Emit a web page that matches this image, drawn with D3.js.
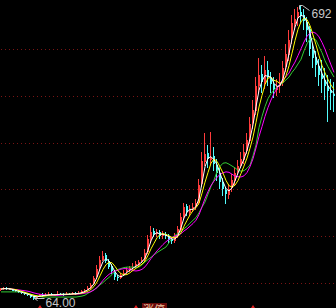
<!DOCTYPE html>
<html><head><meta charset="utf-8">
<script src="https://cdn.jsdelivr.net/npm/d3@7"></script>
<style>html,body{margin:0;padding:0;background:#000;overflow:hidden}</style>
</head><body>
<svg id="c" width="336" height="308"></svg>
<script>
const openP = [
85,87,90,88,86,84,82,80,78,76,
74,72,69,72,75,73,75,77,74,75,
77,77,75,77,76,78,77,79,82,86,
90,97,112,132,150,160,148,136,124,113,
111,117,123,127,133,136,139,146,151,166,
193,212,204,209,201,204,201,193,189,201,
214,242,264,250,259,263,272,312,358,377,
363,372,353,334,316,298,289,302,318,337,
351,363,382,404,442,468,522,547,528,556,
538,526,513,522,528,562,588,623,653,667,
678,672,657,642,598,582,563,547,533,522,
512,503];
const closeP = [
87,89,88,86,84,82,80,78,76,74,
71,69,72,74,73,75,76,74,75,77,
76,75,77,76,78,77,79,82,85,90,
96,110,130,150,158,148,135,125,112,110,
118,122,128,132,135,140,145,150,165,195,
210,205,208,200,205,200,192,190,200,215,
240,262,252,258,262,270,310,360,375,365,
370,355,335,315,300,290,300,320,335,350,
365,380,405,440,470,520,545,530,555,540,
525,515,520,530,560,590,620,655,665,680,
670,660,640,600,580,565,545,535,520,510,
505,500];
const highP = [
90,92,92,90,88,86,84,82,80,78,
76,73,74,77,78,79,80,78,77,82,
79,78,80,79,81,80,82,85,88,94,
100,116,138,158,168,164,152,140,127,118,
122,127,134,137,142,146,150,156,172,203,
222,218,216,214,212,210,205,198,206,222,
250,272,268,266,270,280,322,380,420,395,
422,390,365,345,325,305,312,332,348,362,
380,398,420,455,490,540,580,565,585,575,
550,540,535,548,575,610,640,672,685,690,
692,685,668,650,610,595,578,576,560,545,
535,530];
const lowP = [
83,85,86,84,82,80,78,76,74,72,
69,64,67,70,71,72,73,72,72,73,
74,73,74,74,75,75,76,78,80,84,
88,95,108,128,146,142,130,120,106,104,
108,114,120,124,128,132,136,142,147,162,
188,198,198,194,195,193,185,183,186,197,
210,236,244,244,252,255,266,305,350,345,
355,340,318,300,285,268,280,295,310,330,
345,355,375,398,430,460,505,505,515,520,
505,495,500,505,520,550,575,610,640,650,
655,640,615,585,560,540,520,505,490,445,
470,465];
const maLong = [
81,81,81,81,81,81,81,80,78,76,
75,74,72,71,70,70,70,70,70,70,
70,70,70,70,70,70,71,72,74,78,
82,86,90,96,101,107,112,118,125,129,
131,133,134,134,134,134,134,139,145,150,
155,160,165,169,173,177,186,197,202,206,
210,216,221,228,234,240,250,262,273,290,
306,320,338,349,356,357,354,350,346,341,
339,340,345,352,372,395,432,456,477,494,
505,512,518,523,528,534,540,550,558,568,
578,596,611,622,622,619,605,592,575,562,
551,540];
const gridValues = [100,200,300,400,500,600];
const signalIdx = [13, 45, 84];
const tagIdx = 47;
const tagText = "涨停";
const highLabel = "692";
const lowLabel = "64.00";

const W = 336, H = 308;
const svg = d3.select("#c");
svg.append("rect").attr("width",W).attr("height",H).attr("fill","#000");

const n = closeP.length;
const x = d3.scaleBand().domain(d3.range(n)).range([0, W]);
const y = d3.scaleLinear().domain([100, 600]).range([283, 49]);

// grid
svg.append("g").selectAll("line").data(gridValues).join("line")
  .attr("x1", 1).attr("x2", W)
  .attr("y1", d => Math.round(y(d)) + 0.5).attr("y2", d => Math.round(y(d)) + 0.5)
  .attr("stroke", "#7a1414").attr("stroke-width", 1)
  .attr("stroke-dasharray", "1,3");

// candles
const up = i => closeP[i] >= openP[i];
const cg = svg.append("g").attr("shape-rendering", "crispEdges");
const idx = d3.range(n);
cg.selectAll("rect.w").data(idx).join("rect").attr("class","w")
  .attr("x", i => x(i))
  .attr("width", 1)
  .attr("y", i => y(highP[i]))
  .attr("height", i => Math.max(1, y(lowP[i]) - y(highP[i])))
  .attr("fill", i => up(i) ? "#ff3c3c" : "#54fcfc");
cg.selectAll("rect.b").data(idx).join("rect").attr("class","b")
  .attr("x", i => x(i))
  .attr("width", 2)
  .attr("y", i => y(Math.max(openP[i], closeP[i])))
  .attr("height", i => Math.max(1, Math.abs(y(openP[i]) - y(closeP[i]))))
  .attr("fill", i => up(i) ? "#ff3c3c" : "#54fcfc");

// moving averages of close
function ma(k) {
  return closeP.map((_, i) => d3.mean(closeP.slice(Math.max(0, i - k + 1), i + 1)));
}
const line = d3.line().x((d, i) => x(i) + 1).y(d => y(d)).curve(d3.curveLinear);
const mas = [
  {v: maLong, c: "#33cc33"},
  {v: ma(10), c: "#ff00ff"},
  {v: ma(5), c: "#ffff00"},
  {v: ma(3), c: "#ffffff"}
];
svg.append("g").selectAll("path").data(mas).join("path")
  .attr("d", d => line(d.v)).attr("fill", "none")
  .attr("stroke", d => d.c).attr("stroke-width", 1);

// bottom signal markers (cut by the frame edge)
svg.append("g").selectAll("path").data(signalIdx).join("path")
  .attr("d", i => { const cx = x(i) + 1; return `M${cx},305 L${cx+2},308 L${cx-2},308 Z`; })
  .attr("fill", "#e02020");
const tx = x(tagIdx) + 1;
svg.append("rect").attr("x", tx).attr("y", 303).attr("width", 25).attr("height", 12)
  .attr("fill", "#6a0c0c");
svg.append("text").attr("x", tx + 1).attr("y", 314)
  .attr("fill", "#f0c8a0").attr("font-family", "Noto Sans CJK SC, sans-serif")
  .attr("font-size", 11).text(tagText);

const font = "Liberation Sans, Arial, sans-serif";
// high label
const hi = d3.maxIndex(highP);
const hx = Math.round(x(hi)) - 0.5, hy = Math.round(y(highP[hi])) + 0.5;
svg.append("path")
  .attr("d", `M${hx},${hy+3} L${hx},${hy-1} L${hx+3},${hy-1} L${hx+10},${hy+4}`)
  .attr("fill","none").attr("stroke","#c8c8c8").attr("stroke-width",1);
svg.append("text").attr("x", hx + 12).attr("y", hy + 11)
  .attr("fill","#c8c8c8").attr("font-family", font)
  .attr("font-size", 12).text(highLabel);

// low label
const lo = d3.minIndex(lowP);
const lx = x(lo) + 1.5, ly = Math.round(y(lowP[lo])) - 1.5;
svg.append("path")
  .attr("d", `M${lx},${ly} L${lx+10},${ly} M${lx},${ly} L${lx+3},${ly-2} M${lx},${ly} L${lx+3},${ly+2}`)
  .attr("fill","none").attr("stroke","#c8c8c8").attr("stroke-width",1);
svg.append("text").attr("x", lx + 11).attr("y", ly + 8)
  .attr("fill","#c8c8c8").attr("font-family", font)
  .attr("font-size", 12).text(lowLabel);
</script>
</body></html>
